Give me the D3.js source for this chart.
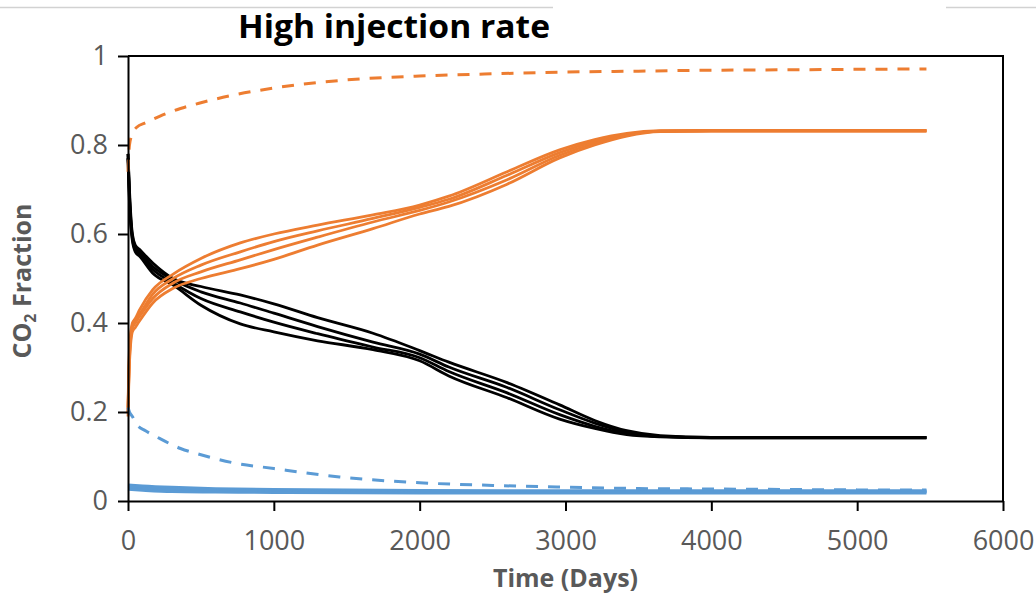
<!DOCTYPE html>
<html>
<head>
<meta charset="utf-8">
<script src="https://cdn.jsdelivr.net/npm/d3@7"></script>
<style>
  body { margin: 0; background: #fff; }
  svg { display: block; }
</style>
</head>
<body>
<svg id="chart" width="1036" height="594"></svg>
<script>
// time axis (days) for the solid orange / black runs
const tMain = [0, 10, 30, 50, 80, 170, 310, 500, 770, 1000, 1300, 1680, 2000, 2200, 2600, 2960, 3200, 3420, 3650, 4000, 5475];

const orange1 = [0.21, 0.34, 0.40, 0.41, 0.43, 0.475, 0.51, 0.545, 0.58, 0.60, 0.62, 0.643, 0.665, 0.685, 0.74, 0.789, 0.812, 0.826, 0.832, 0.833, 0.833];
const orange2 = [0.20, 0.33, 0.395, 0.405, 0.42, 0.465, 0.50, 0.53, 0.56, 0.583, 0.607, 0.635, 0.66, 0.678, 0.732, 0.783, 0.808, 0.824, 0.831, 0.832, 0.832];
const orange3 = [0.20, 0.32, 0.39, 0.40, 0.415, 0.455, 0.49, 0.515, 0.542, 0.565, 0.593, 0.627, 0.653, 0.672, 0.722, 0.777, 0.804, 0.822, 0.831, 0.832, 0.832];
const orange4 = [0.19, 0.31, 0.38, 0.39, 0.405, 0.445, 0.478, 0.50, 0.522, 0.543, 0.575, 0.612, 0.645, 0.662, 0.712, 0.771, 0.80, 0.82, 0.83, 0.831, 0.831];

const black1 = [0.78, 0.70, 0.60, 0.575, 0.565, 0.535, 0.50, 0.482, 0.463, 0.443, 0.412, 0.377, 0.338, 0.312, 0.266, 0.216, 0.181, 0.158, 0.147, 0.143, 0.143];
const black2 = [0.78, 0.69, 0.595, 0.57, 0.56, 0.527, 0.497, 0.47, 0.445, 0.422, 0.392, 0.357, 0.33, 0.301, 0.255, 0.205, 0.175, 0.155, 0.145, 0.143, 0.143];
const black3 = [0.77, 0.68, 0.59, 0.565, 0.555, 0.52, 0.49, 0.455, 0.425, 0.402, 0.376, 0.346, 0.322, 0.291, 0.243, 0.194, 0.168, 0.152, 0.145, 0.142, 0.142];
const black4 = [0.77, 0.67, 0.585, 0.56, 0.55, 0.512, 0.485, 0.44, 0.398, 0.38, 0.36, 0.34, 0.315, 0.281, 0.232, 0.184, 0.163, 0.149, 0.144, 0.142, 0.142];

// dashed runs
const tDash = [0, 10, 30, 60, 120, 220, 360, 500, 720, 1000, 1450, 2000, 2500, 3000, 3500, 4000, 4500, 5000, 5475];
const orangeDash = [0.74, 0.80, 0.825, 0.84, 0.85, 0.865, 0.882, 0.895, 0.912, 0.928, 0.945, 0.955, 0.96, 0.964, 0.966, 0.968, 0.969, 0.97, 0.971];
const blueDash = [0.21, 0.20, 0.19, 0.172, 0.158, 0.14, 0.118, 0.104, 0.086, 0.073, 0.054, 0.041, 0.035, 0.031, 0.028, 0.027, 0.026, 0.025, 0.025];

// solid blue runs near zero
const tBlue = [0, 100, 300, 600, 1000, 2000, 3000, 5475];
const blue1 = [0.036, 0.034, 0.031, 0.028, 0.026, 0.024, 0.023, 0.023];
const blue2 = [0.032, 0.030, 0.027, 0.025, 0.023, 0.022, 0.021, 0.021];
const blue3 = [0.029, 0.027, 0.024, 0.022, 0.021, 0.020, 0.020, 0.020];
const blue4 = [0.026, 0.024, 0.021, 0.020, 0.019, 0.018, 0.018, 0.018];

const xTicks = [0, 1000, 2000, 3000, 4000, 5000, 6000];
const yTicks = [0, 0.2, 0.4, 0.6, 0.8, 1];

const svg = d3.select('#chart');
const plotLeft = 128, plotRight = 1003, plotTop = 56, plotBottom = 501;

const x = d3.scaleLinear().domain([0, 6000]).range([plotLeft, plotRight]);
const y = d3.scaleLinear().domain([0, 1]).range([plotBottom, plotTop]);

// faint line left over from the cropped page above
svg.append('line').attr('x1', 0).attr('x2', 553).attr('y1', 7.5).attr('y2', 7.5)
  .attr('stroke', '#d2d2d2').attr('stroke-width', 1.5);
svg.append('line').attr('x1', 946).attr('x2', 1036).attr('y1', 7.5).attr('y2', 7.5)
  .attr('stroke', '#d2d2d2').attr('stroke-width', 1.5);

const line = (ts) => d3.line()
  .x((d, i) => x(ts[i]))
  .y(d => y(d))
  .curve(d3.curveMonotoneX);

const series = [
  {t: tBlue, v: blue1, color: '#5B9BD5', dash: null},
  {t: tBlue, v: blue2, color: '#5B9BD5', dash: null},
  {t: tBlue, v: blue3, color: '#5B9BD5', dash: null},
  {t: tBlue, v: blue4, color: '#5B9BD5', dash: null},
  {t: tMain, v: black1, color: '#000', dash: null},
  {t: tMain, v: black2, color: '#000', dash: null},
  {t: tMain, v: black3, color: '#000', dash: null},
  {t: tMain, v: black4, color: '#000', dash: null},
  {t: tMain, v: orange1, color: '#ED7D31', dash: null},
  {t: tMain, v: orange2, color: '#ED7D31', dash: null},
  {t: tMain, v: orange3, color: '#ED7D31', dash: null},
  {t: tMain, v: orange4, color: '#ED7D31', dash: null},
  {t: tDash, v: blueDash, color: '#5B9BD5', dash: '12,10'},
  {t: tDash, v: orangeDash, color: '#ED7D31', dash: '12,10'}
];

svg.append('g').selectAll('path')
  .data(series)
  .enter()
  .append('path')
  .attr('d', s => line(s.t)(s.v))
  .attr('fill', 'none')
  .attr('stroke', s => s.color)
  .attr('stroke-width', s => s.dash ? 3 : 2.8)
  .attr('stroke-dasharray', s => s.dash);

// axes
const xAxis = svg.append('g')
  .attr('transform', `translate(0,${plotBottom})`)
  .call(d3.axisBottom(x).tickValues(xTicks).tickFormat(d => d).tickSize(10).tickSizeOuter(0).tickPadding(20));

const yAxis = svg.append('g')
  .attr('transform', `translate(${plotLeft},0)`)
  .call(d3.axisLeft(y).tickValues(yTicks).tickFormat(d => d).tickSize(10).tickSizeOuter(0).tickPadding(10));

[xAxis, yAxis].forEach(g => {
  g.selectAll('.domain').attr('stroke', '#000').attr('stroke-width', 2);
  g.selectAll('.tick line').attr('stroke', '#000').attr('stroke-width', 2);
  g.selectAll('.tick text')
    .attr('fill', '#595959')
    .style('font-family', '"Open Sans", sans-serif')
    .style('font-size', '27px');
});

// top and right edges of the frame
svg.append('path')
  .attr('d', `M${plotLeft},${plotTop}H${plotRight}V${plotBottom}`)
  .attr('fill', 'none')
  .attr('stroke', '#000')
  .attr('stroke-width', 2);

// title
svg.append('text')
  .attr('x', 238)
  .attr('y', 38)
  .attr('textLength', 312)
  .attr('lengthAdjust', 'spacingAndGlyphs')
  .style('font-family', '"Open Sans", sans-serif')
  .style('font-weight', 'bold')
  .style('font-size', '33px')
  .attr('fill', '#000')
  .text('High injection rate');

// x label
svg.append('text')
  .attr('x', (plotLeft + plotRight) / 2)
  .attr('y', 587)
  .attr('text-anchor', 'middle')
  .style('font-family', '"Open Sans", sans-serif')
  .style('font-weight', 'bold')
  .style('font-size', '25px')
  .attr('fill', '#595959')
  .text('Time (Days)');

// y label with subscript
const yLab = svg.append('text')
  .attr('transform', 'translate(31,281) rotate(-90)')
  .attr('text-anchor', 'middle')
  .style('font-family', '"Open Sans", sans-serif')
  .style('font-weight', 'bold')
  .style('font-size', '25px')
  .attr('fill', '#595959');
yLab.append('tspan').text('CO');
yLab.append('tspan').attr('dy', 5).style('font-size', '16px').text('2');
yLab.append('tspan').attr('dy', -5).text(' Fraction');
</script>
</body>
</html>
